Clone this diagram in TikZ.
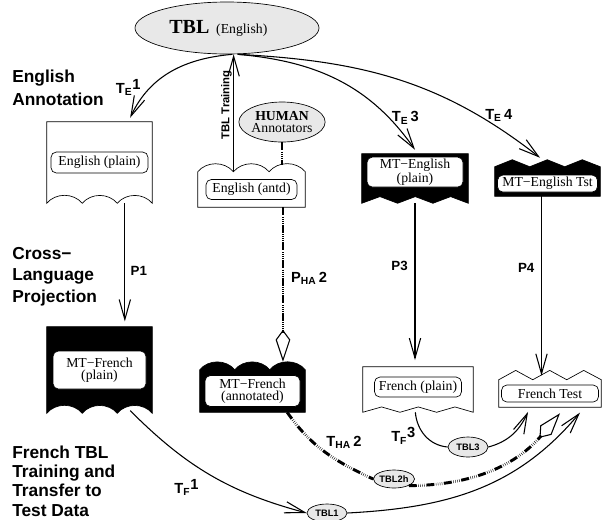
\documentclass[tikz,border=0pt]{standalone}
\usepackage{fontspec}
\setmainfont{Liberation Serif}
\setsansfont{Liberation Sans}
\usepackage{tikz}
\usetikzlibrary{positioning, arrows.meta, shapes.geometric}

\begin{document}
\begin{tikzpicture}[x=0.75pt, y=-0.75pt, font=\fontsize{10.3}{9}\selectfont]
\tikzstyle{doc} = [rectangle, inner sep=0pt, minimum width=78.75pt]
\tikzstyle{docline} = [draw=black, line width=0.5pt]
\tikzstyle{lbl} = [rectangle, rounded corners=4pt, 
draw=black, 
fill=white, 
line width=0.5pt, 
inner sep=0pt, 
text centered, 
align=center]
\tikzstyle{cloud} = [ellipse, draw=black, fill=black!9, line width=0.5pt, inner sep=0pt]
\tikzstyle{tblsmall} = [cloud, minimum width=30pt, minimum height=13.5pt, 
font=\sffamily\bfseries\fontsize{7}{7}\selectfont]
\tikzstyle{sidelbl} = [align=left, anchor=north west, inner sep=0pt]
\tikzstyle{edgelbl} = [font=\sffamily\bfseries\fontsize{11}{11}\selectfont, inner sep=1pt]
\tikzstyle{arrow} = [line width=0.8pt, -{Straight Barb[length=15pt, width=8.5pt]}]
\tikzstyle{hadash} = [line width=2.2pt, 
dash pattern=on 6pt off 1.2pt on 0.3pt off 1.2pt on 0.3pt off 1.2pt on 0.3pt off 1.2pt on 0.3pt off 1.2pt]
\tikzstyle{haarrow} = [hadash, -{Kite[open, length=24pt, width=11pt, inset=7.5pt, line width=0.8pt]}]

\useasboundingbox (0,0) rectangle (602,519);

\node (tbl) [cloud, minimum width=138pt, minimum height=39pt] at (227,28) {{\fontsize{15}{15}\selectfont\bfseries TBL}\ \ (English)\hspace*{13pt}};
\node (human) [cloud, minimum width=60pt, minimum height=30pt, align=center] at (282,122) {\textbf{HUMAN}\\Annotators};

% documents
\node (enplain) [doc, minimum height=60.75pt] at (99.5,162.5) {};
\node (enantd) [doc, minimum width=80.25pt, minimum height=26.25pt] at (251.5,189.5) {};
\node (mtenplain) [doc, minimum width=79.5pt, minimum height=36.75pt] at (415,178.5) {};
\node (mtentst) [doc, minimum height=21.75pt] at (547.5,181.5) {};
\node (mtfrplain) [doc, minimum height=64.5pt] at (99.5,370) {};
\node (mtfrantd) [doc, minimum height=31.5pt] at (252.5,391) {};
\node (frplain) [doc, minimum width=82.5pt, minimum height=33.75pt] at (418,389.5) {};
\node (frtest) [doc, minimum width=76.5pt, minimum height=20.25pt] at (550,393.5) {};

\draw [docline, fill=white] (enplain.north west) -- (enplain.north east) -- (enplain.south east)
  to[bend right=50] ++(-26.25pt,0) to[bend right=50] ++(-26.25pt,0) to[bend right=50] (enplain.south west) -- cycle;
\draw [docline, fill=white] (enantd.south west) -- (enantd.north west)
  to[bend left=50] ++(26.75pt,0) to[bend left=50] ++(26.75pt,0) to[bend left=50] (enantd.north east) -- (enantd.south east) -- cycle;
\draw [docline, fill=black] (mtfrplain.north west) -- (mtfrplain.north east) -- (mtfrplain.south east)
  to[bend right=50] ++(-26.25pt,0) to[bend right=50] ++(-26.25pt,0) to[bend right=50] (mtfrplain.south west) -- cycle;
\draw [docline, fill=black] (mtfrantd.south west) -- (mtfrantd.north west)
  to[bend left=50] ++(26.25pt,0) to[bend left=50] ++(26.25pt,0) to[bend left=50] (mtfrantd.north east) -- (mtfrantd.south east) -- cycle;
\draw [docline, fill=black] (mtenplain.north west) -- (mtenplain.north east) -- (mtenplain.south east)
  -- ++(-13.25pt,5pt) -- ++(-13.25pt,-5pt) -- ++(-13.25pt,5pt) -- ++(-13.25pt,-5pt) -- ++(-13.25pt,5pt) -- (mtenplain.south west) -- cycle;
\draw [docline, fill=black] (mtentst.south west) -- (mtentst.north west)
  -- ++(13.125pt,5.25pt) -- ++(13.125pt,-5.25pt) -- ++(13.125pt,5.25pt) -- ++(13.125pt,-5.25pt) -- ++(13.125pt,5.25pt) -- (mtentst.north east) -- (mtentst.south east) -- cycle;
\draw [docline, fill=white] (frplain.north west) -- (frplain.north east) -- (frplain.south east)
  -- ++(-13.75pt,4pt) -- ++(-13.75pt,-4pt) -- ++(-13.75pt,4pt) -- ++(-13.75pt,-4pt) -- ++(-13.75pt,4pt) -- (frplain.south west) -- cycle;
\draw [docline, fill=white] (frtest.south west) -- (frtest.north west)
  -- ++(12.75pt,7pt) -- ++(12.75pt,-7pt) -- ++(12.75pt,7pt) -- ++(12.75pt,-7pt) -- ++(12.75pt,7pt) -- (frtest.north east) -- (frtest.south east) -- cycle;

\node (enplainlbl) [lbl, minimum width=72.75pt, minimum height=15.75pt] at (enplain) {English (plain)};
\node (enantdlbl) [lbl, minimum width=68.25pt, minimum height=15pt] at (enantd) {English (antd)};
\node (mtenplainlbl) [lbl, minimum width=72pt, minimum height=22.5pt, below=2.25pt of mtenplain.north] {MT−English\\(plain)};
\node (mtentstlbl) [lbl, minimum width=75pt, minimum height=12.75pt, below=6pt of mtentst.north] {MT−English Tst};
\node (mtfrplainlbl) [lbl, minimum width=69.75pt, minimum height=28.5pt] at (mtfrplain) {MT−French\\(plain)};
\node (mtfrantdlbl) [lbl, minimum width=71.25pt, minimum height=23.25pt] at (mtfrantd) {MT−French\\(annotated)};
\node (frplainlbl) [lbl, minimum width=65.25pt, minimum height=15pt, below=7.5pt of frplain.north] {French (plain)};
\node (frtestlbl) [lbl, minimum width=72.75pt, minimum height=12.75pt] at (frtest) {French Test};

\node (tbl1) [tblsmall] at (327,513) {TBL1};
\node (tbl2h) [tblsmall, minimum width=28.5pt] at (394,479) {TBL2h};
\node (tbl3) [tblsmall, minimum height=15pt] at (468,447) {TBL3};

% side headings
\node (engannot) [sidelbl, font=\sffamily\bfseries\fontsize{13}{17}\selectfont] at (12,70) {English\\Annotation};
\node (crossproj) [sidelbl, font=\sffamily\bfseries\fontsize{13}{16}\selectfont] at (12,247) {Cross−\\Language\\Projection};
\node (frtransfer) [sidelbl, font=\sffamily\bfseries\fontsize{13}{14.3}\selectfont] at (12,446) {French TBL\\Training and\\Transfer to\\Test Data};

% English side
\draw [arrow] ([xshift=-13.4pt]enantd.north) -- ([xshift=-13.4pt]enantd.north |- tbl.south)
  node (tbltrain) [pos=0.57, above, sloped, edgelbl, font=\sffamily\bfseries\fontsize{8.5}{8.5}\selectfont] {TBL Training};
\draw [hadash, line width=2pt] (human.south) -- ([yshift=5pt]human.south |- enantd.north);
\draw [arrow] ([xshift=4pt]tbl.south) to[out=185, in=65]
  node (te1) [pos=0.72, left=6pt, edgelbl] {T\textsubscript{E}\raisebox{3pt}{1}} ([xshift=23pt,yshift=3pt]enplain.north);
\draw [arrow] ([xshift=8pt]tbl.south) to[out=-5, in=125]
  node (te3) [pos=0.75, right=4pt, xshift=4pt, yshift=-7pt, edgelbl] {T\textsubscript{E}\,3} ([yshift=3pt]mtenplain.north);
\draw [arrow] ([xshift=8pt]tbl.south) to[out=-3, in=142]
  node (te4) [pos=0.8, above=4pt, xshift=12pt, yshift=-8pt, edgelbl] {T\textsubscript{E}\,4} ([xshift=-5.6pt,yshift=6.75pt]mtentst.north);

% projection
\draw [arrow] ([xshift=19pt]enplain.south) -- ([xshift=19pt,yshift=4pt]enplain.south |- mtfrplain.north)
  node (p1) [pos=0.57, right=3pt, edgelbl, font=\sffamily\bfseries\fontsize{10}{10}\selectfont] {P1};
\draw [haarrow] ([xshift=23.6pt]enantd.south) -- ([xshift=23.6pt,yshift=6pt]enantd.south |- mtfrantd.north)
  node (pha2) [pos=0.46, right=4pt, edgelbl] {P\textsubscript{HA}\,2};
\draw [arrow] (mtenplain.south) -- ([yshift=5pt]mtenplain.south |- frplain.north)
  node (p3) [pos=0.4, left=4pt, edgelbl, font=\sffamily\bfseries\fontsize{10}{10}\selectfont] {P3};
\draw [arrow] ([xshift=-4.5pt]mtentst.south) -- ([xshift=-4.5pt,yshift=3pt]mtentst.south |- frtest.north)
  node (p4) [pos=0.4, left=4pt, edgelbl, font=\sffamily\bfseries\fontsize{10}{10}\selectfont] {P4};

% French side
\draw [arrow] ([xshift=23pt,yshift=2pt]mtfrplain.south) to[out=-45, in=165]
  node (tf1) [pos=0.45, below left=8pt, xshift=4pt, edgelbl] {T\textsubscript{F}\raisebox{3pt}{1}} (tbl1.west);
\draw [arrow] (tbl1.east) to[out=3, in=230] ([xshift=22.5pt,yshift=-4pt]frtest.south);
\draw [line width=0.8pt] ([xshift=-2pt]frplain.south) to[out=-85, in=175]
  node (tf3) [pos=0.5, left=6pt, edgelbl] {T\textsubscript{F}\raisebox{3pt}{3}} (tbl3.west);
\draw [arrow] (tbl3.east) to[out=15, in=245] ([xshift=-16.5pt,yshift=-3.5pt]frtest.south);
\draw [hadash] ([xshift=26pt]mtfrantd.south) to[out=-55, in=155]
  node (tha2) [pos=0.35, right=8pt, edgelbl] {T\textsubscript{HA}\,2} (tbl2h.west);
\draw [haarrow] (tbl2h.south east) to[out=0, in=230] ([xshift=7.5pt,yshift=-4.5pt]frtest.south);

\end{tikzpicture}
\end{document}
